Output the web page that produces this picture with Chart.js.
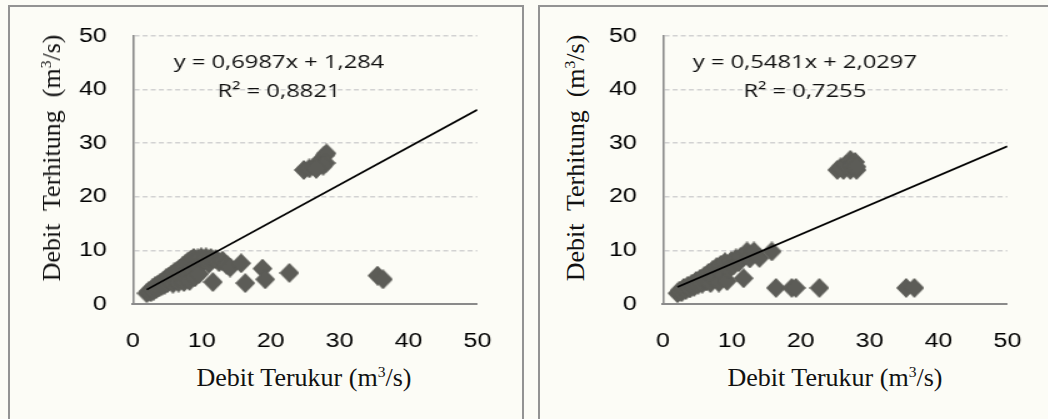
<!DOCTYPE html>
<html lang="id">
<head>
<meta charset="UTF-8">
<title>Debit Terukur vs Debit Terhitung</title>
<script src="https://cdn.jsdelivr.net/npm/chart.js"></script>
<style>
    body {
        margin: 0;
        width: 1048px;
        height: 419px;
        overflow: hidden;
        background: #fcfcf6;
        position: relative;
        font-family: "Liberation Serif", "Times New Roman", serif;
    }
    .panel {
        position: absolute;
        top: 5px;
        height: 430px;
        border: 2px solid #939393;
        box-sizing: border-box;
    }
    .stretch {
        position: absolute;
        top: 3px;
        transform-origin: 0 0;
        transform: scaleX(1.25);
    }
    .xtitle, .ytitle {
        position: absolute;
        font-size: 26px;
        color: #111;
        white-space: nowrap;
        line-height: 1;
    }
    .xtitle { transform: translate(-50%, -50%); }
    .ytitle { transform: translate(-50%, -50%) rotate(-90deg); }
    sup { font-size: 60%; vertical-align: 0.6em; line-height: 0; }
</style>
</head>
<body>
    <div class="panel" style="left: 8px; width: 516px;"></div>
    <div class="panel" style="left: 538px; width: 530px;"></div>

    <div class="stretch" style="left: 60px;"><canvas id="chartA" width="362" height="351"></canvas></div>
    <div class="stretch" style="left: 590px;"><canvas id="chartB" width="362" height="351"></canvas></div>

    <div class="ytitle" style="left: 52px; top: 158px;">Debit&nbsp; Terhitung&nbsp; (m<sup>3</sup>/s)</div>
    <div class="xtitle" style="left: 304px; top: 378px;">Debit Terukur (m<sup>3</sup>/s)</div>
    <div class="ytitle" style="left: 576px; top: 158px;">Debit&nbsp; Terhitung&nbsp; (m<sup>3</sup>/s)</div>
    <div class="xtitle" style="left: 835px; top: 378px;">Debit Terukur (m<sup>3</sup>/s)</div>

<script>
// measured flow (x) vs computed flow (y), m3/s
const terukurA = [
    2.0, 2.3, 2.6, 2.8, 3.0, 3.2, 3.4, 3.6, 3.8, 4.0, 4.2, 4.4, 4.6, 4.8, 5.0, 5.2,
    5.4, 5.6, 5.8, 6.0, 6.2, 6.4, 6.6, 6.8, 7.0, 7.2, 7.4, 7.6, 7.8, 8.0, 8.2, 8.4,
    8.6, 8.8, 9.0, 9.2, 9.4, 9.6, 9.9, 10.3, 10.6, 11.0, 11.3, 11.6, 12.0, 12.5, 13.0,
    13.6, 14.1, 15.7, 16.3, 18.8, 19.2, 22.7, 35.5, 36.3,
    24.8, 25.6, 26.4, 27.0, 27.4, 27.8, 28.1, 28.0, 27.6, 26.6
];
const terhitungA = [
    2.0, 2.4, 2.2, 2.9, 2.5, 3.3, 2.8, 3.6, 3.1, 4.0, 3.4, 4.3, 3.6, 4.8, 3.9, 5.1,
    4.4, 5.5, 3.8, 5.9, 4.7, 6.2, 4.0, 6.6, 5.3, 7.0, 4.1, 7.4, 5.8, 7.9, 4.3, 8.3,
    6.4, 8.6, 5.0, 7.2, 8.5, 5.6, 8.7, 8.0, 8.7, 7.5, 8.6, 4.1, 8.4, 7.8, 8.1,
    7.3, 6.8, 7.6, 3.9, 6.6, 4.6, 5.8, 5.3, 4.6,
    25.0, 25.3, 25.7, 26.3, 27.0, 27.7, 28.1, 26.3, 25.8, 25.2
];

const terukurB = [
    2.1, 2.4, 2.7, 3.0, 3.3, 3.6, 3.9, 4.2, 4.5, 4.8, 5.1, 5.4, 5.7, 6.0, 6.3, 6.6,
    6.9, 7.2, 7.5, 7.8, 8.1, 8.4, 8.7, 9.0, 9.3, 9.6, 9.9, 10.2, 10.6, 11.0, 11.3,
    11.7, 12.2, 12.6, 13.2, 14.0, 15.8, 16.4, 18.7, 19.3, 22.7, 35.3, 36.5,
    25.3, 26.2, 27.2, 28.1, 25.8, 26.6, 27.2, 27.9, 27.5, 28.1
];
const terhitungB = [
    2.0, 2.5, 2.2, 3.0, 2.6, 3.4, 2.9, 3.8, 3.2, 4.3, 3.6, 4.7, 3.8, 5.2, 4.2, 5.8,
    3.9, 6.3, 4.8, 6.9, 4.0, 7.3, 5.5, 7.8, 4.3, 6.5, 8.0, 7.2, 8.5, 7.8, 8.8,
    4.8, 9.8, 8.5, 9.8, 8.6, 9.8, 3.0, 3.0, 3.0, 3.0, 3.0, 3.0,
    25.0, 25.0, 25.0, 25.0, 25.5, 26.0, 26.9, 26.5, 25.9, 25.6
];

// linear trend: y = slope * x + intercept
const slopes = [0.6987, 0.5481];
const intercepts = [1.284, 2.0297];
const eqLabels = ['y = 0,6987x + 1,284', 'y = 0,5481x + 2,0297'];
const r2Labels = ['R² = 0,8821', 'R² = 0,7255'];

const axisMin = 0;
const axisMax = 50;
const axisStep = 10;

const STRETCH = 1.25;

// diamond marker, narrowed so it comes out square after the horizontal stretch
function diamond(size) {
    const c = document.createElement('canvas');
    c.width = Math.round(size / STRETCH);
    c.height = size;
    const g = c.getContext('2d');
    g.fillStyle = '#5c5c57';
    g.beginPath();
    g.moveTo(c.width / 2, 0);
    g.lineTo(c.width, c.height / 2);
    g.lineTo(c.width / 2, c.height);
    g.lineTo(0, c.height / 2);
    g.closePath();
    g.fill();
    return c;
}
const marker = diamond(20);

const equationText = {
    id: 'equationText',
    afterDatasetsDraw(chart, args, opts) {
        const { ctx, scales: { x, y } } = chart;
        ctx.save();
        ctx.font = '19px "Open Sans", sans-serif';
        ctx.fillStyle = '#111';
        ctx.textAlign = 'center';
        ctx.textBaseline = 'middle';
        ctx.fillText(opts.eq, x.getPixelForValue(opts.at[0]), y.getPixelForValue(opts.at[1]));
        ctx.fillText(opts.r2, x.getPixelForValue(opts.at[0]), y.getPixelForValue(opts.at[2]));
        ctx.restore();
    }
};

function makeChart(id, xs, ys, k, labelAt) {
    const points = xs.map((v, i) => ({ x: v, y: ys[i] }));
    const x0 = Math.min(...xs);
    const trend = [x0, axisMax].map(v => ({ x: v, y: slopes[k] * v + intercepts[k] }));

    return new Chart(document.getElementById(id), {
        type: 'scatter',
        data: {
            datasets: [
                {
                    data: trend,
                    showLine: true,
                    borderColor: '#000',
                    borderWidth: 1.8,
                    pointRadius: 0
                },
                {
                    data: points,
                    pointStyle: marker,
                    pointRadius: 10
                }
            ]
        },
        options: {
            responsive: false,
            animation: false,
            layout: { padding: 0 },
            plugins: {
                legend: { display: false },
                tooltip: { enabled: false },
                equationText: { eq: eqLabels[k], r2: r2Labels[k], at: labelAt }
            },
            scales: {
                x: {
                    min: axisMin, max: axisMax,
                    afterFit: s => { s.height = 50; },
                    ticks: {
                        stepSize: axisStep,
                        padding: 17,
                        color: '#000',
                        font: { family: '"Liberation Sans", Arial, sans-serif', size: 20 }
                    },
                    grid: { display: false },
                    border: { display: true, color: '#8a8a8a', width: 2 }
                },
                y: {
                    min: axisMin, max: axisMax,
                    afterFit: s => { s.width = 58.4; },
                    ticks: {
                        stepSize: axisStep,
                        padding: 21,
                        color: '#000',
                        font: { family: '"Liberation Sans", Arial, sans-serif', size: 20 }
                    },
                    grid: {
                        drawTicks: false,
                        lineWidth: 1.5,
                        color: c => c.tick && c.tick.value === 0 ? 'rgba(0,0,0,0)' : '#d2d2d2'
                    },
                    border: { display: true, color: '#8a8a8a', width: 1.6, dash: [4, 2.5] }
                }
            }
        },
        plugins: [equationText]
    });
}

makeChart('chartA', terukurA, terhitungA, 0, [21.2, 45, 39.6]);
makeChart('chartB', terukurB, terhitungB, 1, [20.6, 45, 39.6]);
</script>
</body>
</html>
